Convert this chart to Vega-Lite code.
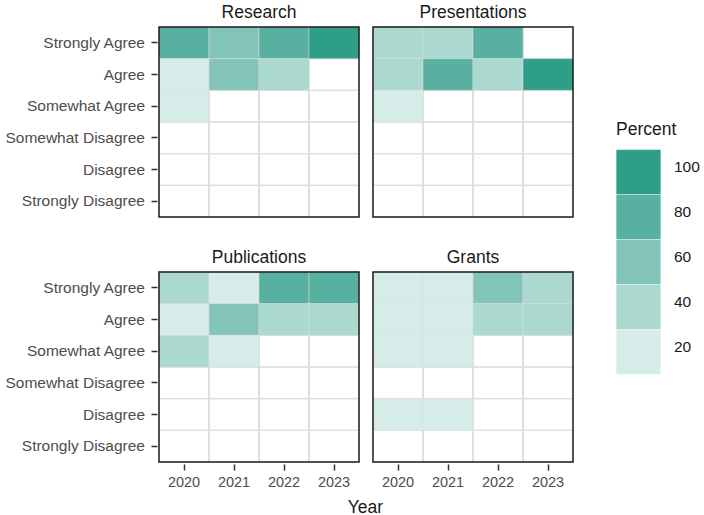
{
  "$schema": "https://vega.github.io/schema/vega-lite/v6.json",
  "background": "white",
  "padding": {"left": 4, "top": 3, "right": 5, "bottom": 3},
  "title": {
    "text": "Year",
    "orient": "bottom",
    "anchor": "middle",
    "frame": "bounds",
    "fontSize": 17.5,
    "fontWeight": "normal",
    "color": "#1a1a1a",
    "font": "Liberation Sans",
    "offset": 10,
    "dx": 13
  },
  "data": {
    "values": [
      {"Category": "Research", "Year": "2020", "Response": "Strongly Agree", "Percent": 80},
      {"Category": "Research", "Year": "2021", "Response": "Strongly Agree", "Percent": 60},
      {"Category": "Research", "Year": "2022", "Response": "Strongly Agree", "Percent": 80},
      {"Category": "Research", "Year": "2023", "Response": "Strongly Agree", "Percent": 100},
      {"Category": "Research", "Year": "2020", "Response": "Agree", "Percent": 20},
      {"Category": "Research", "Year": "2021", "Response": "Agree", "Percent": 60},
      {"Category": "Research", "Year": "2022", "Response": "Agree", "Percent": 40},
      {"Category": "Research", "Year": "2023", "Response": "Agree", "Percent": 0},
      {"Category": "Research", "Year": "2020", "Response": "Somewhat Agree", "Percent": 20},
      {"Category": "Research", "Year": "2021", "Response": "Somewhat Agree", "Percent": 0},
      {"Category": "Research", "Year": "2022", "Response": "Somewhat Agree", "Percent": 0},
      {"Category": "Research", "Year": "2023", "Response": "Somewhat Agree", "Percent": 0},
      {"Category": "Research", "Year": "2020", "Response": "Somewhat Disagree", "Percent": 0},
      {"Category": "Research", "Year": "2021", "Response": "Somewhat Disagree", "Percent": 0},
      {"Category": "Research", "Year": "2022", "Response": "Somewhat Disagree", "Percent": 0},
      {"Category": "Research", "Year": "2023", "Response": "Somewhat Disagree", "Percent": 0},
      {"Category": "Research", "Year": "2020", "Response": "Disagree", "Percent": 0},
      {"Category": "Research", "Year": "2021", "Response": "Disagree", "Percent": 0},
      {"Category": "Research", "Year": "2022", "Response": "Disagree", "Percent": 0},
      {"Category": "Research", "Year": "2023", "Response": "Disagree", "Percent": 0},
      {"Category": "Research", "Year": "2020", "Response": "Strongly Disagree", "Percent": 0},
      {"Category": "Research", "Year": "2021", "Response": "Strongly Disagree", "Percent": 0},
      {"Category": "Research", "Year": "2022", "Response": "Strongly Disagree", "Percent": 0},
      {"Category": "Research", "Year": "2023", "Response": "Strongly Disagree", "Percent": 0},

      {"Category": "Presentations", "Year": "2020", "Response": "Strongly Agree", "Percent": 40},
      {"Category": "Presentations", "Year": "2021", "Response": "Strongly Agree", "Percent": 40},
      {"Category": "Presentations", "Year": "2022", "Response": "Strongly Agree", "Percent": 80},
      {"Category": "Presentations", "Year": "2023", "Response": "Strongly Agree", "Percent": 0},
      {"Category": "Presentations", "Year": "2020", "Response": "Agree", "Percent": 40},
      {"Category": "Presentations", "Year": "2021", "Response": "Agree", "Percent": 80},
      {"Category": "Presentations", "Year": "2022", "Response": "Agree", "Percent": 40},
      {"Category": "Presentations", "Year": "2023", "Response": "Agree", "Percent": 100},
      {"Category": "Presentations", "Year": "2020", "Response": "Somewhat Agree", "Percent": 20},
      {"Category": "Presentations", "Year": "2021", "Response": "Somewhat Agree", "Percent": 0},
      {"Category": "Presentations", "Year": "2022", "Response": "Somewhat Agree", "Percent": 0},
      {"Category": "Presentations", "Year": "2023", "Response": "Somewhat Agree", "Percent": 0},
      {"Category": "Presentations", "Year": "2020", "Response": "Somewhat Disagree", "Percent": 0},
      {"Category": "Presentations", "Year": "2021", "Response": "Somewhat Disagree", "Percent": 0},
      {"Category": "Presentations", "Year": "2022", "Response": "Somewhat Disagree", "Percent": 0},
      {"Category": "Presentations", "Year": "2023", "Response": "Somewhat Disagree", "Percent": 0},
      {"Category": "Presentations", "Year": "2020", "Response": "Disagree", "Percent": 0},
      {"Category": "Presentations", "Year": "2021", "Response": "Disagree", "Percent": 0},
      {"Category": "Presentations", "Year": "2022", "Response": "Disagree", "Percent": 0},
      {"Category": "Presentations", "Year": "2023", "Response": "Disagree", "Percent": 0},
      {"Category": "Presentations", "Year": "2020", "Response": "Strongly Disagree", "Percent": 0},
      {"Category": "Presentations", "Year": "2021", "Response": "Strongly Disagree", "Percent": 0},
      {"Category": "Presentations", "Year": "2022", "Response": "Strongly Disagree", "Percent": 0},
      {"Category": "Presentations", "Year": "2023", "Response": "Strongly Disagree", "Percent": 0},

      {"Category": "Publications", "Year": "2020", "Response": "Strongly Agree", "Percent": 40},
      {"Category": "Publications", "Year": "2021", "Response": "Strongly Agree", "Percent": 20},
      {"Category": "Publications", "Year": "2022", "Response": "Strongly Agree", "Percent": 80},
      {"Category": "Publications", "Year": "2023", "Response": "Strongly Agree", "Percent": 80},
      {"Category": "Publications", "Year": "2020", "Response": "Agree", "Percent": 20},
      {"Category": "Publications", "Year": "2021", "Response": "Agree", "Percent": 60},
      {"Category": "Publications", "Year": "2022", "Response": "Agree", "Percent": 40},
      {"Category": "Publications", "Year": "2023", "Response": "Agree", "Percent": 40},
      {"Category": "Publications", "Year": "2020", "Response": "Somewhat Agree", "Percent": 40},
      {"Category": "Publications", "Year": "2021", "Response": "Somewhat Agree", "Percent": 20},
      {"Category": "Publications", "Year": "2022", "Response": "Somewhat Agree", "Percent": 0},
      {"Category": "Publications", "Year": "2023", "Response": "Somewhat Agree", "Percent": 0},
      {"Category": "Publications", "Year": "2020", "Response": "Somewhat Disagree", "Percent": 0},
      {"Category": "Publications", "Year": "2021", "Response": "Somewhat Disagree", "Percent": 0},
      {"Category": "Publications", "Year": "2022", "Response": "Somewhat Disagree", "Percent": 0},
      {"Category": "Publications", "Year": "2023", "Response": "Somewhat Disagree", "Percent": 0},
      {"Category": "Publications", "Year": "2020", "Response": "Disagree", "Percent": 0},
      {"Category": "Publications", "Year": "2021", "Response": "Disagree", "Percent": 0},
      {"Category": "Publications", "Year": "2022", "Response": "Disagree", "Percent": 0},
      {"Category": "Publications", "Year": "2023", "Response": "Disagree", "Percent": 0},
      {"Category": "Publications", "Year": "2020", "Response": "Strongly Disagree", "Percent": 0},
      {"Category": "Publications", "Year": "2021", "Response": "Strongly Disagree", "Percent": 0},
      {"Category": "Publications", "Year": "2022", "Response": "Strongly Disagree", "Percent": 0},
      {"Category": "Publications", "Year": "2023", "Response": "Strongly Disagree", "Percent": 0},

      {"Category": "Grants", "Year": "2020", "Response": "Strongly Agree", "Percent": 20},
      {"Category": "Grants", "Year": "2021", "Response": "Strongly Agree", "Percent": 20},
      {"Category": "Grants", "Year": "2022", "Response": "Strongly Agree", "Percent": 60},
      {"Category": "Grants", "Year": "2023", "Response": "Strongly Agree", "Percent": 40},
      {"Category": "Grants", "Year": "2020", "Response": "Agree", "Percent": 20},
      {"Category": "Grants", "Year": "2021", "Response": "Agree", "Percent": 20},
      {"Category": "Grants", "Year": "2022", "Response": "Agree", "Percent": 40},
      {"Category": "Grants", "Year": "2023", "Response": "Agree", "Percent": 40},
      {"Category": "Grants", "Year": "2020", "Response": "Somewhat Agree", "Percent": 20},
      {"Category": "Grants", "Year": "2021", "Response": "Somewhat Agree", "Percent": 20},
      {"Category": "Grants", "Year": "2022", "Response": "Somewhat Agree", "Percent": 0},
      {"Category": "Grants", "Year": "2023", "Response": "Somewhat Agree", "Percent": 0},
      {"Category": "Grants", "Year": "2020", "Response": "Somewhat Disagree", "Percent": 0},
      {"Category": "Grants", "Year": "2021", "Response": "Somewhat Disagree", "Percent": 0},
      {"Category": "Grants", "Year": "2022", "Response": "Somewhat Disagree", "Percent": 0},
      {"Category": "Grants", "Year": "2023", "Response": "Somewhat Disagree", "Percent": 0},
      {"Category": "Grants", "Year": "2020", "Response": "Disagree", "Percent": 20},
      {"Category": "Grants", "Year": "2021", "Response": "Disagree", "Percent": 20},
      {"Category": "Grants", "Year": "2022", "Response": "Disagree", "Percent": 0},
      {"Category": "Grants", "Year": "2023", "Response": "Disagree", "Percent": 0},
      {"Category": "Grants", "Year": "2020", "Response": "Strongly Disagree", "Percent": 0},
      {"Category": "Grants", "Year": "2021", "Response": "Strongly Disagree", "Percent": 0},
      {"Category": "Grants", "Year": "2022", "Response": "Strongly Disagree", "Percent": 0},
      {"Category": "Grants", "Year": "2023", "Response": "Strongly Disagree", "Percent": 0}
    ]
  },
  "facet": {
    "field": "Category",
    "type": "nominal",
    "sort": ["Research", "Presentations", "Publications", "Grants"],
    "header": {
      "title": null,
      "labelFontSize": 17.5,
      "labelColor": "#1a1a1a",
      "labelFont": "Liberation Sans",
      "labelPadding": 5
    }
  },
  "columns": 2,
  "spacing": {"column": 10, "row": 29},
  "spec": {
    "width": 200,
    "height": 190,
    "layer": [
      {
        "description": "Tile outlines between years",
        "transform": [{"filter": "datum.Year != '2020'"}],
        "mark": {"type": "rule", "color": "#dedede", "strokeWidth": 0.8},
        "encoding": {
          "x": {
            "field": "Year",
            "type": "ordinal",
            "title": null,
            "bandPosition": 0,
            "scale": {"paddingInner": 0, "paddingOuter": 0},
            "axis": {"bandPosition": 0.5, "labelAngle": 0}
          }
        }
      },
      {
        "description": "Tile outlines between responses",
        "transform": [{"filter": "datum.Response != 'Strongly Agree'"}],
        "mark": {"type": "rule", "color": "#dedede", "strokeWidth": 0.8},
        "encoding": {
          "y": {
            "field": "Response",
            "type": "ordinal",
            "title": null,
            "bandPosition": 0,
            "sort": ["Strongly Agree", "Agree", "Somewhat Agree", "Somewhat Disagree", "Disagree", "Strongly Disagree"],
            "scale": {"paddingInner": 0, "paddingOuter": 0},
            "axis": {"bandPosition": 0.5}
          }
        }
      },
      {
        "transform": [{"filter": "datum.Percent > 0"}],
        "mark": {"type": "rect", "stroke": "#dedede", "strokeWidth": 0.5},
        "encoding": {
          "x": {
            "field": "Year",
            "type": "ordinal",
            "title": null,
            "scale": {"paddingInner": 0, "paddingOuter": 0},
            "axis": {"bandPosition": 0.5, "labelAngle": 0}
          },
          "y": {
            "field": "Response",
            "type": "ordinal",
            "title": null,
            "sort": ["Strongly Agree", "Agree", "Somewhat Agree", "Somewhat Disagree", "Disagree", "Strongly Disagree"],
            "scale": {"paddingInner": 0, "paddingOuter": 0},
            "axis": {"bandPosition": 0.5}
          },
          "color": {
            "field": "Percent",
            "type": "ordinal",
            "title": "Percent",
            "scale": {
              "domain": [100, 80, 60, 40, 20],
              "range": ["#2e9e88", "#58b1a0", "#82c5b8", "#abd8cf", "#d5ece8"]
            },
            "legend": {
              "orient": "none",
              "legendX": 457,
              "legendY": 94,
              "symbolType": "square",
              "symbolSize": 1960,
              "symbolStrokeWidth": 0,
              "symbolOpacity": 1,
              "rowPadding": 0,
              "labelFontSize": 15.5,
              "labelColor": "#1a1a1a",
              "labelOffset": 13,
              "labelBaseline": "alphabetic",
              "titleFontSize": 17.5,
              "titleFontWeight": "normal",
              "titleColor": "#1a1a1a",
              "titlePadding": 11
            }
          }
        }
      }
    ]
  },
  "config": {
    "font": "Liberation Sans",
    "view": {"stroke": "#1a1a1a", "strokeWidth": 1.5, "strokeForeground": true},
    "axis": {
      "domain": false,
      "grid": false,
      "labelFont": "Liberation Sans",
      "labelColor": "#4d4d4d",
      "tickColor": "#333333",
      "tickWidth": 1.5,
      "tickSize": 6
    },
    "axisX": {"labelFontSize": 14.5, "labelPadding": 5},
    "axisY": {"labelFontSize": 15.5, "labelPadding": 6.5},
    "legend": {"labelFont": "Liberation Sans", "titleFont": "Liberation Sans"}
  }
}
